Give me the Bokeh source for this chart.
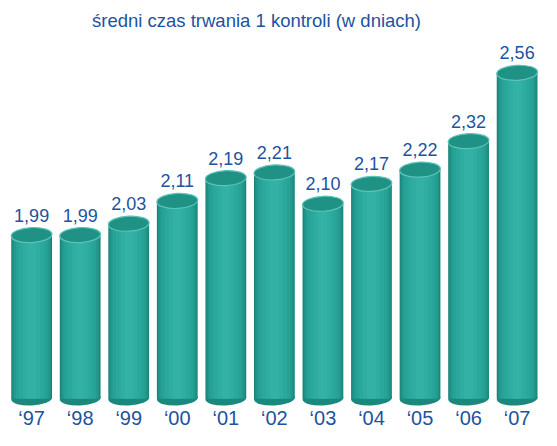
from bokeh.plotting import figure
from bokeh.models import Range1d, Label, ColumnDataSource
from bokeh.core.properties import value
from bokeh.embed import file_html
from bokeh.resources import INLINE

# ---- data ----
years = ["\u201897", "\u201898", "\u201899", "\u201800", "\u201801", "\u201802",
         "\u201803", "\u201804", "\u201805", "\u201806", "\u201807"]
values = [1.99, 1.99, 2.03, 2.11, 2.19, 2.21, 2.10, 2.17, 2.22, 2.32, 2.56]
value_labels = [f"{v:.2f}".replace(".", ",") for v in values]
title_text = "średni czas trwania 1 kontroli (w dniach)"

# ---- style ----
FONT = "Liberation Sans"
BLUE = "#1d53a0"
BASE = 1.416
BAR_W = 0.84
ANGLE = 0.05

xs = list(range(len(years)))
src = ColumnDataSource(dict(x=xs, top=values, lab=value_labels, yr=years,
                            base=[BASE] * len(xs)))

p = figure(width=541, height=430, x_range=Range1d(-0.641, 10.502),
           y_range=Range1d(1.3036, 2.814), output_backend="svg",
           toolbar_location=None, x_axis_location=None, y_axis_location=None,
           min_border=0, outline_line_color=None)
p.grid.visible = False
p.background_fill_color = "white"

# bottom rim
p.ellipse(x="x", y="base", width=BAR_W, height=14, height_units="screen",
          angle=ANGLE, fill_color="#1c887d", line_color=None, source=src)

# cylinder body with concentric shading
stripes = [(1.00, "#1a8479"), (0.95, "#1f9084"), (0.88, "#239a8e"),
           (0.78, "#27a296"), (0.62, "#2aa89b"), (0.42, "#2eada0"),
           (0.22, "#32b1a4")]
for frac, col in stripes:
    p.vbar(x="x", bottom="base", top="top", width=BAR_W * frac,
           fill_color=col, line_color=None, source=src)

# top face
p.ellipse(x="x", y="top", width=BAR_W, height=15, height_units="screen",
          angle=ANGLE, fill_color="#1f9185", line_color="#5cc4b8",
          line_width=1.2, source=src)

# value labels
p.text(x="x", y="top", text="lab", y_offset=-20, text_align="center",
       text_baseline="alphabetic", text_font=value(FONT),
       text_font_size="18px", text_color=BLUE, source=src)

# year labels
p.text(x="x", y="base", text="yr", y_offset=19, text_align="center",
       text_baseline="alphabetic", text_font=value(FONT),
       text_font_size="20px", text_color=BLUE, source=src)

# title
p.add_layout(Label(x=256, y=410, x_units="screen", y_units="screen",
                   text=title_text, text_align="center",
                   text_baseline="alphabetic", text_font=FONT,
                   text_font_size="18.5px", text_color=BLUE))

open("out.html", "w").write(file_html(p, INLINE))
